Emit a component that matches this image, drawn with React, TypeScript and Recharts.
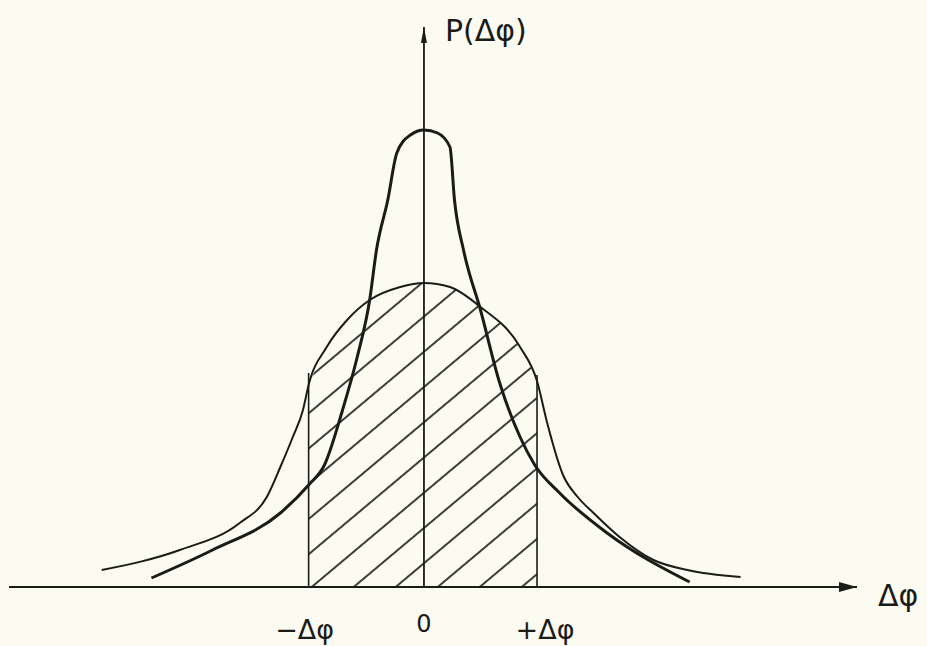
import React from "react";
import {
  ComposedChart,
  Line,
  Area,
  XAxis,
  YAxis,
  ReferenceLine,
  ReferenceDot,
} from "recharts";

// Narrow (peaked) distribution
const narrowPhi = [-2.41, -1.87, -1.27, -1.02, -0.88, -0.72, -0.59, -0.48, -0.42, -0.32, -0.24, -0.12, 0, 0.12, 0.23, 0.27, 0.35, 0.5, 0.67, 0.85, 0.98, 1.2, 1.62, 2.35];
const narrowP = [0.09, 0.37, 0.74, 1.02, 1.22, 1.77, 2.3, 2.87, 3.37, 3.87, 4.34, 4.52, 4.57, 4.54, 4.4, 3.87, 3.37, 2.77, 2.04, 1.5, 1.22, 0.94, 0.54, 0.05];

// Wide (flat) distribution
const widePhi = [-2.85, -2.16, -1.63, -1.39, -1.27, -1.16, -1.07, -1.02, -0.86, -0.68, -0.48, -0.21, 0, 0.23, 0.5, 0.85, 1.0, 1.09, 1.23, 1.36, 1.5, 1.73, 2.03, 2.33, 2.8];
const wideP = [0.17, 0.37, 0.64, 0.9, 1.2, 1.5, 1.77, 2.02, 2.4, 2.67, 2.87, 3.0, 3.04, 3.0, 2.8, 2.4, 2.06, 1.64, 1.12, 0.9, 0.74, 0.5, 0.27, 0.17, 0.1];

// Integration limits and tick labels
const limits = [-1.02, 1.0];
const limitTops = [2.14, 2.12];
const tickValues = [-1.02, 0, 1.0];
const tickLabels = ["−Δφ", "0", "+Δφ"];
const yAxisLabel = "P(Δφ)";
const xAxisLabel = "Δφ";

const narrowData = narrowPhi.map((x, i) => ({ x, y: narrowP[i] }));
const wideData = widePhi.map((x, i) => ({ x, y: wideP[i] }));
const hatchData = wideData.filter((d) => d.x >= limits[0] && d.x <= limits[1]);

const INK = "#1b1b18";
const PAPER = "#fbfbf2";
const FONT = "'DejaVu Sans', sans-serif";

const Tick = (props: any) => {
  const { x, y, index } = props;
  const isZero = index === 1;
  const dx = index === 0 ? -4 : index === 2 ? 8 : 0;
  return (
    <text
      x={x + dx}
      y={isZero ? y + 37 : y + 44}
      textAnchor="middle"
      fill={INK}
      fontFamily={FONT}
      fontSize={isZero ? 24 : 27}
    >
      {tickLabels[index]}
    </text>
  );
};

const UpArrow = (props: any) => {
  const { cx, cy } = props;
  return <path d={`M ${cx} ${cy} L ${cx - 3} ${cy + 16} L ${cx + 3} ${cy + 16} Z`} fill={INK} />;
};

const RightArrow = (props: any) => {
  const { cx, cy } = props;
  return <path d={`M ${cx} ${cy} L ${cx - 18} ${cy - 5} L ${cx - 18} ${cy + 5} Z`} fill={INK} />;
};

export default function App() {
  return (
    <div style={{ position: "absolute", left: 0, top: 0, width: 927, height: 646, background: PAPER }}>
      <ComposedChart
        width={927}
        height={646}
        margin={{ top: 27, right: 70, bottom: 0, left: 9 }}
      >
        <defs>
          <pattern
            id="hatch"
            patternUnits="userSpaceOnUse"
            width={27}
            height={27}
            patternTransform="rotate(50)"
          >
            <line x1={2} y1={0} x2={2} y2={27} stroke={INK} strokeWidth={1.7} />
          </pattern>
        </defs>
        <XAxis
          type="number"
          dataKey="x"
          domain={[-3.67, 3.83]}
          allowDataOverflow
          ticks={tickValues}
          tickLine={false}
          axisLine={{ stroke: INK, strokeWidth: 2.2 }}
          tick={<Tick />}
          interval={0}
          height={59}
        />
        <YAxis type="number" dataKey="y" domain={[0, 5.6]} allowDataOverflow hide />
        <Area
          data={hatchData}
          dataKey="y"
          type="monotone"
          stroke="none"
          fill="url(#hatch)"
          fillOpacity={1}
          isAnimationActive={false}
        />
        <ReferenceLine
          segment={[{ x: 0, y: 0 }, { x: 0, y: 5.6 }]}
          stroke={INK}
          strokeWidth={1.8}
        />
        <ReferenceLine
          segment={[{ x: limits[0], y: 0 }, { x: limits[0], y: limitTops[0] }]}
          stroke={INK}
          strokeWidth={1.6}
        />
        <ReferenceLine
          segment={[{ x: limits[1], y: 0 }, { x: limits[1], y: limitTops[1] }]}
          stroke={INK}
          strokeWidth={1.6}
        />
        <Line
          data={wideData}
          dataKey="y"
          type="monotone"
          stroke={INK}
          strokeWidth={2}
          dot={false}
          isAnimationActive={false}
        />
        <Line
          data={narrowData}
          dataKey="y"
          type="monotone"
          stroke={INK}
          strokeWidth={3}
          dot={false}
          isAnimationActive={false}
        />
        <ReferenceDot
          x={0}
          y={5.6}
          r={0}
          shape={<UpArrow />}
          label={{
            value: yAxisLabel,
            position: "right",
            dx: 16,
            dy: 3,
            fill: INK,
            fontSize: 30,
            fontFamily: FONT,
          }}
        />
        <ReferenceDot
          x={3.83}
          y={0}
          r={0}
          shape={<RightArrow />}
          label={{
            value: xAxisLabel,
            position: "right",
            dx: 16,
            dy: 8,
            fill: INK,
            fontSize: 30,
            fontFamily: FONT,
          }}
        />
      </ComposedChart>
    </div>
  );
}
